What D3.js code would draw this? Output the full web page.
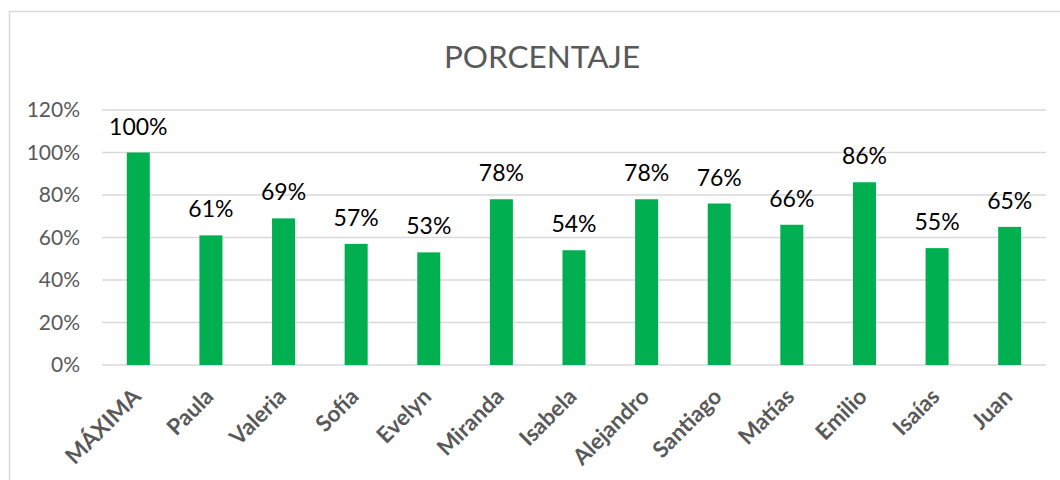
<!DOCTYPE html>
<html lang="es">
<head>
  <meta charset="UTF-8" />
  <title>PORCENTAJE</title>
  <script src="https://d3js.org/d3.v7.min.js"></script>
  <style>
    body { margin: 0; padding: 0; background: #fff; font-family: Lato, "Open Sans", sans-serif; }
    svg { display: block; }
    .grid line { stroke: #d9d9d9; stroke-width: 1.5px; }
    .ytick { font-size: 21px; fill: #595959; }
    .xlabel { font-size: 22.5px; font-weight: bold; fill: #595959; }
    .vlabel { font-size: 23px; fill: #000; }
    .title { font-size: 31.5px; fill: #595959; }
  </style>
</head>
<body>
<svg id="chart" width="1060" height="480"></svg>
<script>
  // Data
  const categories = ["MÁXIMA", "Paula", "Valeria", "Sofía", "Evelyn", "Miranda", "Isabela",
                      "Alejandro", "Santiago", "Matías", "Emilio", "Isaías", "Juan"];
  const values = [1.00, 0.61, 0.69, 0.57, 0.53, 0.78, 0.54, 0.78, 0.76, 0.66, 0.86, 0.55, 0.65];
  const yTicks = [0, 0.2, 0.4, 0.6, 0.8, 1.0, 1.2];
  const chartTitle = "PORCENTAJE";

  const svg = d3.select('#chart');
  const M = { left: 102, right: 1046, top: 110, bottom: 365 };

  // chart frame
  svg.append('rect')
    .attr('x', 9.5).attr('y', 11.5).attr('width', 1100).attr('height', 600)
    .attr('fill', 'none').attr('stroke', '#d9d9d9').attr('stroke-width', 1.5);

  const x = d3.scaleBand().domain(categories).range([M.left, M.right])
    .paddingInner(0.683).paddingOuter(0.3415);
  const y = d3.scaleLinear().domain([0, 1.2]).range([M.bottom, M.top]);
  const pct = d3.format('.0%');

  // gridlines
  svg.append('g').attr('class', 'grid')
    .selectAll('line').data(yTicks).enter().append('line')
    .attr('x1', M.left).attr('x2', M.right)
    .attr('y1', d => y(d)).attr('y2', d => y(d));

  // y tick labels
  svg.append('g').selectAll('text').data(yTicks).enter().append('text')
    .attr('class', 'ytick')
    .attr('x', 80).attr('y', d => y(d))
    .attr('dy', '0.35em')
    .attr('text-anchor', 'end')
    .text(d => pct(d));

  // bars
  svg.append('g').selectAll('rect').data(values).enter().append('rect')
    .attr('x', (d, i) => x(categories[i]))
    .attr('width', x.bandwidth())
    .attr('y', d => y(d))
    .attr('height', d => y(0) - y(d))
    .attr('fill', '#00b050');

  // value labels
  svg.append('g').selectAll('text').data(values).enter().append('text')
    .attr('class', 'vlabel')
    .attr('x', (d, i) => x(categories[i]) + x.bandwidth() / 2)
    .attr('y', d => y(d) - 18)
    .attr('text-anchor', 'middle')
    .text(d => pct(d));

  // category labels, rotated
  svg.append('g').selectAll('text').data(categories).enter().append('text')
    .attr('class', 'xlabel')
    .attr('text-anchor', 'end')
    .attr('transform', d => {
      const cx = x(d) + x.bandwidth() / 2 + 4;
      return `translate(${cx},${M.bottom + 33}) rotate(-45)`;
    })
    .text(d => d);

  // title
  svg.append('text')
    .attr('class', 'title')
    .attr('x', 542).attr('y', 68)
    .attr('text-anchor', 'middle')
    .text(chartTitle);
</script>
</body>
</html>
